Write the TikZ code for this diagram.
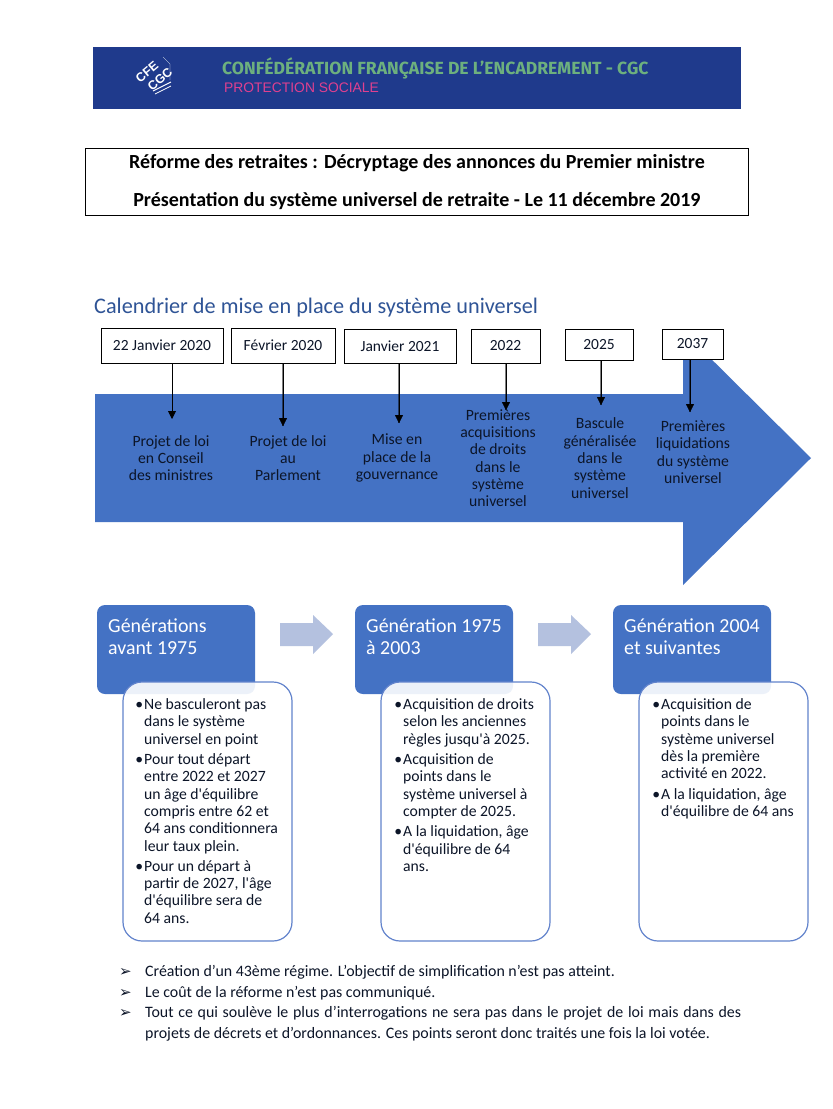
\documentclass[tikz,border=0pt]{standalone}
\usepackage{fontspec}
\setmainfont{Carlito}
\newfontfamily\bannerfont{Fira Sans}
\newfontfamily\liberfont{Liberation Sans}
\newfontfamily\dejafont{DejaVu Sans}
\usetikzlibrary{arrows.meta,calc}
\definecolor{bannerblue}{HTML}{1F3A8C}
\definecolor{bannergreen}{HTML}{6DB07E}
\definecolor{bannerpink}{HTML}{E0408F}
\definecolor{office}{HTML}{4472C4}
\definecolor{headblue}{HTML}{2F5496}
\definecolor{paleblue}{HTML}{B4C1DF}
\definecolor{cardedge}{HTML}{6283CC}
\definecolor{inkdark}{HTML}{0C1528}
\newcommand{\aps}{\textquotesingle}
\newcommand{\bul}{\leavevmode\llap{•\hspace{1pt}}}
\tikzset{
 x=1pt,y=-1pt,
 boxstyle/.style={draw=black,line width=0.9pt,fill=white,inner sep=0pt,font=\fontsize{15.5}{17}\selectfont,text=inkdark},
 barlabel/.style={align=center,inner sep=0pt,font=\fontsize{15.7}{17.3}\selectfont,text=inkdark},
 solidstem/.style={draw=black,line width=0.9pt,-{Triangle[width=8pt,length=8pt]}},
 softstem/.style={draw=black,draw opacity=.5,line width=1.6pt},
 softtip/.style={draw=black,line width=0.2pt,-{Triangle[width=8pt,length=8pt]}},
 genhead/.style={fill=office,rounded corners=8pt,draw=none},
 genlabel/.style={anchor=north west,align=left,inner sep=0pt,text=white,font=\fontsize{19.9}{22}\selectfont},
 card/.style={draw=cardedge,line width=1.2pt,fill=white,fill opacity=.9,rounded corners=19pt},
 cardtext/.style={anchor=north west,align=left,inner sep=0pt,text=inkdark,font=\fontsize{15.7}{17.3}\selectfont},
 flow/.style={fill=paleblue,draw=none},
 note/.style={anchor=base west,inner sep=0pt,text=inkdark,font=\fontsize{15.9}{20.6}\selectfont},
 chevron/.style={anchor=base west,inner sep=0pt,text=inkdark,font=\dejafont\fontsize{15}{15}\selectfont},
 logotext/.style={inner sep=0pt,rotate=40,align=left,text=white,font=\liberfont\bfseries\fontsize{12.5}{13.8}\selectfont},
}
\begin{document}
\begin{tikzpicture}
\useasboundingbox (0,0) rectangle (833,1109);
\fill[white] (0,0) rectangle (833,1109);
% banner
\fill[bannerblue] (93,47) rectangle (741,109);
\node[inner sep=0pt,anchor=west,text=bannergreen,font=\bannerfont\bfseries\fontsize{17.6}{18}\selectfont] (bannerA) at (222,68) {CONFÉDÉRATION FRANÇAISE DE L’ENCADREMENT - CGC};
\node[inner sep=0pt,anchor=west,text=bannerpink,font=\liberfont\fontsize{13.85}{15}\selectfont] (bannerB) at (224,87.5) {PROTECTION SOCIALE};
\node[logotext] (logo) at (154,75) {CFE\\\hspace*{4pt}CGC};
\draw[white,line width=0.3pt] (163,57) -- (170,64) -- (170,80);
\draw[white,line width=1pt] (153,91) -- (171,82);
\draw[white,line width=0.7pt] (155,94) -- (171,86);
% title
\node[draw=black,line width=0.9pt,minimum width=663pt,minimum height=67pt,inner sep=0pt] (titlebox) at (416.5,181.5) {};
\node[inner sep=0pt,font=\bfseries\fontsize{20}{22}\selectfont,text=black] (titleA) at (417,163) {Réforme des retraites : Décryptage des annonces du Premier ministre};
\node[inner sep=0pt,font=\bfseries\fontsize{20}{22}\selectfont,text=black] (titleB) at (417,201) {Présentation du système universel de retraite - Le 11 décembre 2019};
\node[inner sep=0pt,anchor=base west,text=headblue,font=\fontsize{22.25}{24}\selectfont] (heading) at (94,313) {Calendrier de mise en place du système universel};
% big arrow
\fill[office] (95,394) -- (683,394) -- (683,331) -- (811,458) -- (683,585) -- (683,522) -- (95,522) -- cycle;
% dates
\node[boxstyle,minimum width=122pt,minimum height=35pt] (d1) at (162,345.5) {22 Janvier 2020};
\node[boxstyle,minimum width=104pt,minimum height=35pt] (d2) at (283,345.5) {Février 2020};
\node[boxstyle,minimum width=112pt,minimum height=34pt] (d3) at (400,346) {Janvier 2021};
\node[boxstyle,minimum width=69pt,minimum height=34pt] (d4) at (505.5,346) {2022};
\node[boxstyle,minimum width=68pt,minimum height=31pt] (d5) at (599,344.5) {2025};
\node[boxstyle,minimum width=61pt,minimum height=30pt] (d6) at (692.5,344) {2037};
% arrow ends
\coordinate (a1) at (172,419);
\coordinate (a2) at (283,426);
\coordinate (a3) at (399,423);
\coordinate (a4) at (506,410);
\coordinate (a5) at (601,405);
\coordinate (a6) at (690,412);
\draw[solidstem] (d1.south -| a1) -- (a1);
\foreach \n in {2,...,6}{
 \draw[softstem] (d\n.south -| a\n) -- (a\n);
 \draw[softtip] (d\n.south -| a\n) -- (a\n);
}
% labels
\node[barlabel] (l1) at (171,458) {Projet de loi\\en Conseil\\des ministres};
\node[barlabel] (l2) at (288,458) {Projet de loi\\au\\Parlement};
\node[barlabel] (l3) at (397,458) {Mise en\\place de la\\gouvernance};
\node[barlabel] (l4) at (498,458) {Premières\\acquisitions\\de droits\\dans le\\système\\universel};
\node[barlabel] (l5) at (600,458) {Bascule\\généralisée\\dans le\\système\\universel};
\node[barlabel] (l6) at (693,452) {Premières\\liquidations\\du système\\universel};
% generation headers
\fill[genhead] (97,605) rectangle (255,694);
\fill[genhead] (355,605) rectangle (513,694);
\fill[genhead] (613,605) rectangle (771,694);
\node[genlabel] (g1) at (108,619) {Générations\\avant 1975};
\node[genlabel] (g2) at (366,619) {Génération 1975\\à 2003};
\node[genlabel] (g3) at (624,619) {Génération 2004\\et suivantes};
% flow arrows
\fill[flow] (280,623) -- (313,623) -- (313,615) -- (333,634) -- (313,654) -- (313,646) -- (280,646) -- cycle;
\fill[flow] (538,623) -- (571,623) -- (571,615) -- (591,634) -- (571,654) -- (571,646) -- (538,646) -- cycle;
% cards
\draw[card] (123,682) rectangle (292,941);
\draw[card] (381,682) rectangle (550,941);
\draw[card] (639,682) rectangle (808,941);
\node[cardtext] (c1) at (144,698.5) {\bul Ne basculeront pas\\dans le système\\universel en point\\[3pt]
\bul Pour tout départ\\entre 2022 et 2027\\un âge d\aps équilibre\\compris entre 62 et\\64 ans conditionnera\\leur taux plein.\\[3pt]
\bul Pour un départ à\\partir de 2027, l\aps âge\\d\aps équilibre sera de\\64 ans.};
\node[cardtext] (c2) at (403,698.5) {\bul Acquisition de droits\\selon les anciennes\\règles jusqu\aps à 2025.\\[3pt]
\bul Acquisition de\\points dans le\\système universel à\\compter de 2025.\\[3pt]
\bul A la liquidation, âge\\d\aps équilibre de 64\\ans.};
\node[cardtext] (c3) at (661,698.5) {\bul Acquisition de\\points dans le\\système universel\\dès la première\\activité en 2022.\\[3pt]
\bul A la liquidation, âge\\d\aps équilibre de 64 ans};
% notes
\node[chevron] (m1) at (119,976) {➢};
\node[chevron] (m2) at (119,997) {➢};
\node[chevron] (m3) at (119,1017) {➢};
\node[note] (n1) at (145,976) {Création d’un 43ème régime. L’objectif de simplification n’est pas atteint.};
\node[note] (n2) at (145,997) {Le coût de la réforme n’est pas communiqué.};
\node[note,anchor=north west,text width=596pt,align=justify] (n3) at (145,1006) {Tout ce qui soulève le plus d’interrogations ne sera pas dans le projet de loi mais dans des\linebreak projets de décrets et d’ordonnances. Ces points seront donc traités une fois la loi votée.};
\end{tikzpicture}
\end{document}
